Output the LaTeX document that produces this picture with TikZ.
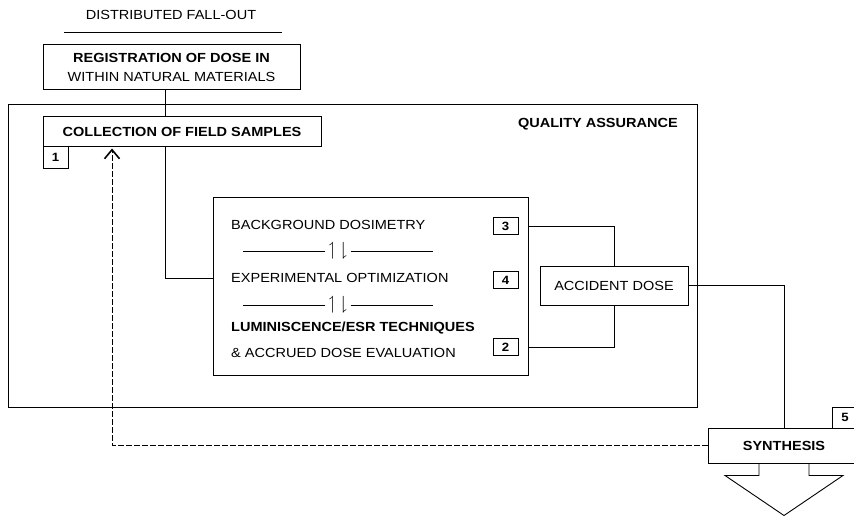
\documentclass[tikz,border=0pt]{standalone}
\usepackage{amsmath}
\usepackage{amssymb}
\usepackage{fontspec}
\setmainfont{Liberation Sans}[FakeStretch=1.1]
\usetikzlibrary{arrows.meta}

\begin{document}
\begin{tikzpicture}[
    x=1pt, y=-1pt,
    every node/.style={font=\fontsize{13.2}{19}\selectfont, inner sep=0pt},
    heavy/.style={font=\fontsize{13.2}{19}\selectfont\bfseries},
    box/.style={draw, line width=1pt},
    numbox/.style={draw, line width=1pt, minimum width=25pt, minimum height=17pt,
        font=\fontsize{12}{12}\selectfont\bfseries},
    conn/.style={line width=0.7pt},
    feedback/.style={line width=0.8pt, dash pattern=on 6pt off 2pt, shorten >=1pt,
        -{Straight Barb[length=9pt,width=15pt,line width=1.6pt]}},
    updown/.style={font=\fontsize{19}{19}\selectfont, inner sep=3pt}
]
    \useasboundingbox (0,0) rectangle (854,516);%page size

    \node (dist) at (171, 15) {DISTRIBUTED FALL-OUT};
    \coordinate (ruleL) at (64, 32);
    \coordinate (ruleR) at (282, 32);
    \draw[line width=0.9pt] (ruleL) -- (ruleR);

    \node[box, minimum width=257pt, minimum height=45pt, align=center] (reg) at (171.5, 67.5)
        {{\bfseries REGISTRATION OF DOSE IN}\\WITHIN NATURAL MATERIALS};

    \node[box, minimum width=689pt, minimum height=302pt] (qa) at (352.5, 256) {};
    \node[heavy, anchor=east] (qatxt) at (678, 124) {QUALITY ASSURANCE};

    \node[box, fill=white, minimum width=278pt, minimum height=30pt] (coll) at (182, 132)
        {\bfseries COLLECTION OF FIELD SAMPLES};
    \node[numbox, minimum height=21pt] (n1) at (55.5, 157.5) {1};

    %techniques box
    \node[box, minimum width=315pt, minimum height=178pt] (mid) at (370.5, 286) {};
    \node[anchor=west] (bg) at (231, 225) {BACKGROUND DOSIMETRY};
    \node[updown] (sepA) at (338, 251) {$\upharpoonleft\,\downharpoonright$};
    \node[anchor=west] (exp) at (231, 278) {EXPERIMENTAL OPTIMIZATION};
    \node[updown] (sepB) at (338, 305) {$\upharpoonleft\,\downharpoonright$};
    \node[heavy, anchor=west] (lum) at (231, 328) {LUMINISCENCE/ESR TECHNIQUES};
    \node[anchor=west] (acr) at (231, 353) {\& ACCRUED DOSE EVALUATION};
    \draw[line width=0.9pt] (sepA.west) -- ++(-82,0);
    \draw[line width=0.9pt] (sepA.east) -- ++(82,0);
    \draw[line width=0.9pt] (sepB.west) -- ++(-82,0);
    \draw[line width=0.9pt] (sepB.east) -- ++(82,0);

    \node[numbox] (n3) at (505.5, 226) {3};
    \node[numbox] (n4) at (505.5, 280) {4};
    \node[numbox] (n2) at (505.5, 347) {2};

    \node[box, minimum width=148pt, minimum height=39pt] (acc) at (614, 285.5) {ACCIDENT DOSE};

    \node[box, fill=white, minimum width=152pt, minimum height=35pt] (syn) at (784, 445.5)
        {\bfseries SYNTHESIS};
    \node[numbox, minimum height=21pt] (n5) at (845, 417.5) {5};

    %big arrow out of synthesis
    \draw[line width=0.9pt] ([xshift=-25pt]syn.south) -- ++(0,12) -- ++(-34,0)
        -- ++(59,40) -- ++(59,-40) -- ++(-34,0) -- ++(0,-12);

    %connectors
    \coordinate (feed) at (165, 0);
    \coordinate (back) at (112, 0);
    \draw[conn] (reg.south -| feed) -- (coll.north -| feed);
    \draw[conn] (coll.south -| feed) |- (mid.west |- exp);
    \draw[conn] (mid.east |- n3) -| (acc.north);
    \draw[conn] (mid.east |- n2) -| (acc.south);
    \draw[conn] (acc.east) -| (syn.north);
    \draw[feedback] (syn.west) -| (coll.south -| back);
\end{tikzpicture}
\end{document}
